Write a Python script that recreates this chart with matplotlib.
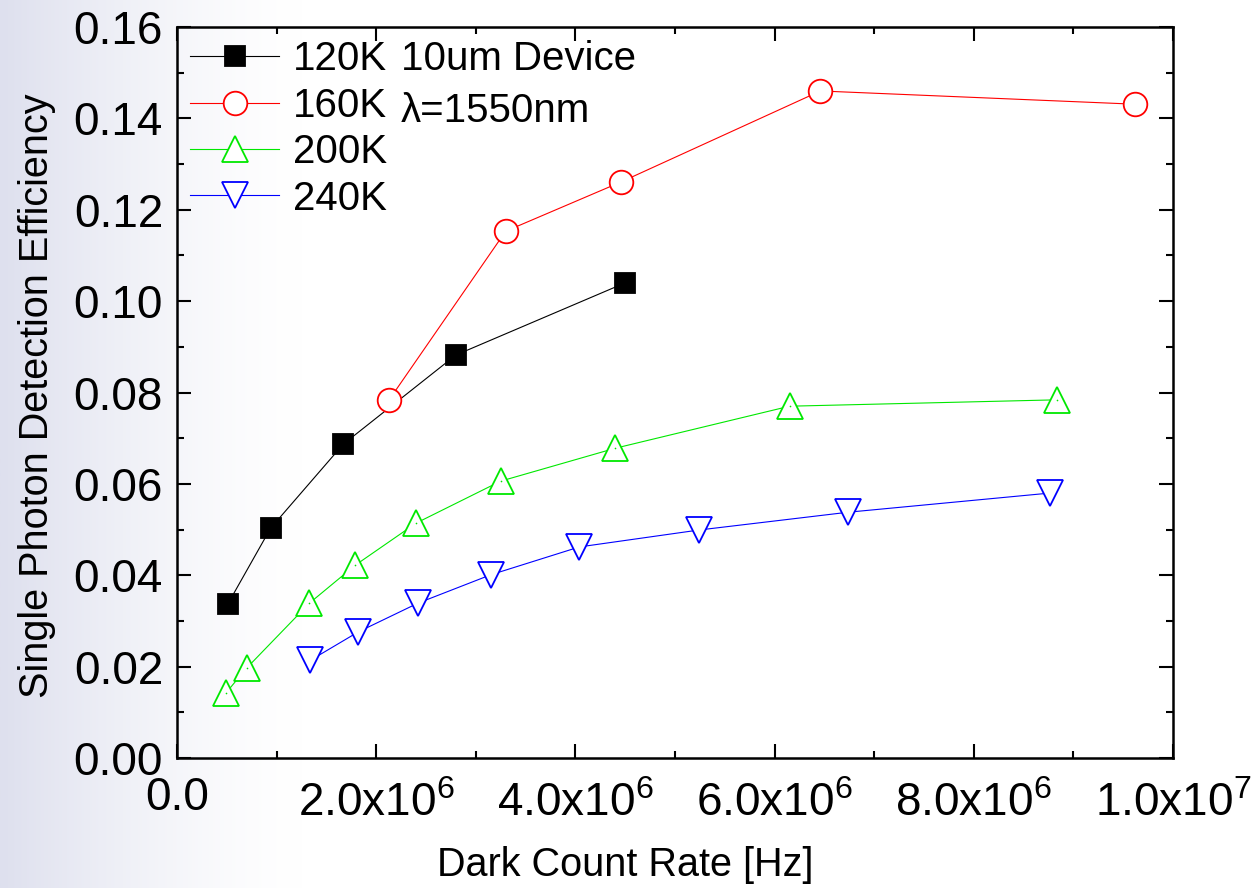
import numpy as np
import matplotlib.pyplot as plt
from matplotlib.ticker import MultipleLocator
from matplotlib.transforms import ScaledTranslation

plt.rcParams['font.family'] = ['Liberation Sans', 'DejaVu Sans']
plt.rcParams['mathtext.fontset'] = 'custom'
plt.rcParams['mathtext.rm'] = 'Liberation Sans'
plt.rcParams['mathtext.it'] = 'Liberation Sans'
plt.rcParams['mathtext.default'] = 'regular'

# ── data ──────────────────────────────────────────────────────────────
dcr_120 = [0.51e6, 0.94e6, 1.67e6, 2.80e6, 4.50e6]
spde_120 = [0.0337, 0.0503, 0.0687, 0.0882, 0.1040]

dcr_160 = [2.13e6, 3.30e6, 4.46e6, 6.46e6, 9.62e6]
spde_160 = [0.0784, 0.1153, 0.1261, 0.1460, 0.1431]

dcr_200 = [0.49e6, 0.70e6, 1.33e6, 1.79e6, 2.40e6, 3.25e6, 4.40e6, 6.15e6, 8.84e6]
spde_200 = [0.0142, 0.0197, 0.0339, 0.0422, 0.0514, 0.0606, 0.0678, 0.0770, 0.0784]

dcr_240 = [1.34e6, 1.82e6, 2.42e6, 3.15e6, 4.04e6, 5.24e6, 6.74e6, 8.77e6]
spde_240 = [0.0214, 0.0276, 0.0339, 0.0401, 0.0462, 0.0499, 0.0538, 0.0580]

x_ticks = [0, 2e6, 4e6, 6e6, 8e6, 1e7]
x_ticklabels = ['0.0', r'2.0x10$^{6}$', r'4.0x10$^{6}$', r'6.0x10$^{6}$',
                r'8.0x10$^{6}$', r'1.0x10$^{7}$']
y_ticks = [0.00, 0.02, 0.04, 0.06, 0.08, 0.10, 0.12, 0.14, 0.16]

fig = plt.figure(figsize=(12.54, 8.88), dpi=100)

# faint lavender gradient on the left edge of the slide
bg = fig.add_axes([0, 0, 1, 1], zorder=-10)
xx = np.linspace(0, 1, 600)
fade = np.clip(1 - xx / 0.24, 0, 1) ** 1.4
rgb = np.ones((1, xx.size, 3))
rgb[0, :, 0] -= fade * (255 - 222) / 255
rgb[0, :, 1] -= fade * (255 - 224) / 255
rgb[0, :, 2] -= fade * (255 - 238) / 255
bg.imshow(rgb, aspect='auto', extent=[0, 1, 0, 1])
bg.set_axis_off()

ax = fig.add_axes([177 / 1254, 130 / 888, 996 / 1254, 731 / 888])
ax.patch.set_alpha(0)

LW = 0.8
MEW = 1.3
GREEN = '#00e800'
ax.plot(dcr_120, spde_120, '-s', color='black', lw=LW, ms=15,
        mfc='black', mec='black', mew=MEW, label='120K')
ax.plot(dcr_160, spde_160, '-o', color='red', lw=LW, ms=17,
        mfc='white', mec='red', mew=MEW, label='160K')
ax.plot(dcr_200, spde_200, '-^', color=GREEN, lw=LW, ms=19,
        mfc='white', mec=GREEN, mew=MEW, label='200K')
ax.plot(dcr_200, spde_200, 'o', color=GREEN, ms=1.2, mew=0)
ax.plot(dcr_240, spde_240, '-v', color='blue', lw=LW, ms=19,
        mfc='white', mec='blue', mew=MEW, label='240K')

ax.set_xlim(0, 1e7)
ax.set_ylim(0, 0.16)
ax.set_xticks(x_ticks)
ax.set_xticklabels(x_ticklabels)
ax.set_yticks(y_ticks)
ax.set_yticklabels([f'{v:.2f}' for v in y_ticks])
ax.xaxis.set_minor_locator(MultipleLocator(1e6))
ax.yaxis.set_minor_locator(MultipleLocator(0.01))

ax.tick_params(which='both', direction='in', top=True, right=True,
               width=1.5, labelsize=33)
ax.tick_params(which='major', length=10)
ax.tick_params(which='minor', length=5)
ax.tick_params(axis='x', pad=17)
ax.tick_params(axis='y', pad=10)
for s in ax.spines.values():
    s.set_linewidth(1.8)

# the plain "0.0" label sits a little higher than the ones with exponents
first = ax.get_xticklabels()[0]
first.set_transform(first.get_transform()
                    + ScaledTranslation(0, 6 / 100, fig.dpi_scale_trans))

ax.set_xlabel('Dark Count Rate [Hz]', fontsize=28.5)
ax.xaxis.set_label_coords(0.45, -0.121)
ax.set_ylabel('Single Photon Detection Efficiency', fontsize=28.5)
ax.yaxis.set_label_coords(-0.121, 0.495)

leg = ax.legend(loc='upper left', bbox_to_anchor=(-0.011, 1.015), frameon=False,
                fontsize=29, handlelength=2.2, handletextpad=0.35,
                labelspacing=0.21, numpoints=1, borderaxespad=0.2)

ax.text(0.225, 0.941, '10um Device', transform=ax.transAxes,
        fontsize=29, va='baseline', ha='left')
ax.text(0.225, 0.870, 'λ=1550nm', transform=ax.transAxes,
        fontsize=29, va='baseline', ha='left')

fig.savefig('out.png', dpi=100)
